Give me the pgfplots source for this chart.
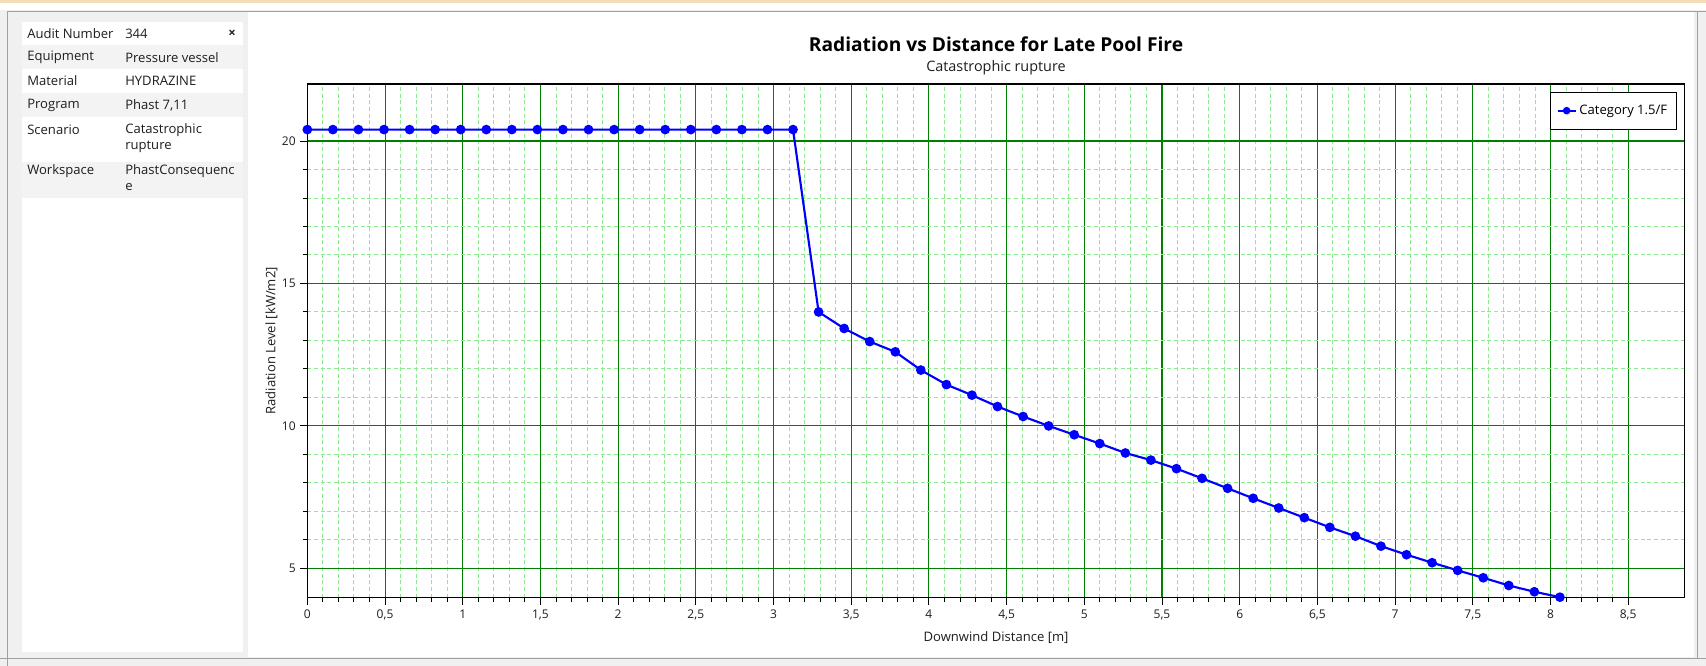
\documentclass[border=0pt]{standalone}
\usepackage{fontspec}
\setmainfont{Open Sans}
\usepackage{pgfplots}
\pgfplotsset{compat=1.18}
\definecolor{majgrid}{RGB}{0,128,0}
\definecolor{mingrid}{RGB}{140,235,140}
\definecolor{panelgrey}{RGB}{240,240,240}
\definecolor{rowgrey}{RGB}{243,243,243}
\definecolor{framegrey}{RGB}{160,160,160}
\definecolor{topbeige}{RGB}{242,222,185}
\definecolor{txt}{RGB}{30,30,30}

\pgfplotstableread{
x y
0 20.4
0.1645 20.4
0.329 20.4
0.4935 20.4
0.658 20.4
0.8225 20.4
0.987 20.4
1.1515 20.4
1.316 20.4
1.4805 20.4
1.645 20.4
1.8095 20.4
1.974 20.4
2.1385 20.4
2.303 20.4
2.4675 20.4
2.632 20.4
2.7965 20.4
2.961 20.4
3.1255 20.4
3.29 14.0
3.4545 13.42
3.619 12.96
3.7835 12.60
3.948 11.96
4.1125 11.45
4.277 11.08
4.4415 10.68
4.606 10.33
4.7705 10.0
4.935 9.69
5.0995 9.38
5.264 9.05
5.4285 8.80
5.593 8.50
5.7575 8.16
5.922 7.81
6.0865 7.46
6.251 7.12
6.4155 6.78
6.58 6.44
6.7445 6.13
6.909 5.78
7.0735 5.48
7.238 5.20
7.4025 4.93
7.567 4.67
7.7315 4.40
7.896 4.18
8.0605 3.99
}\radiation

\newcommand{\sm}{\fontsize{9.8}{11}\selectfont}
\newcommand{\tk}{\fontsize{9}{10}\selectfont}

\begin{document}
\begin{tikzpicture}
\begin{scope}[x=0.75pt,y=-0.75pt]
\useasboundingbox (0,0) rectangle (1706,666);
\fill[panelgrey] (0,0) rectangle (1706,666);
\fill[topbeige] (0,0) rectangle (1706,3);
\fill[white] (0,3) rectangle (1706,10);
\draw[framegrey] (7,666) -- (7,11) -- (1706,11);
% info panel
\fill[white] (21.7,21.7) rectangle (243,652);
\fill[rowgrey] (21.7,45) rectangle (243,69);
\fill[rowgrey] (21.7,93) rectangle (243,116.7);
\fill[rowgrey] (21.7,162) rectangle (243,198);
\begin{scope}[every node/.style={anchor=west,font=\sm,text=txt,inner sep=0pt}]
\node at (27,34) {Audit Number};
\node at (125,34) {344};
\node[font=\sm\bfseries] at (228,34) {×};
\node at (27,57.7) {Equipment};
\node at (125,57.7) {Pressure vessel};
\node at (27,81) {Material};
\node at (125,81) {HYDRAZINE};
\node at (27,105) {Program};
\node at (125,105) {Phast 7,11};
\node at (27,129.7) {Scenario};
\node at (125,129.7) {Catastrophic};
\node at (125,146.3) {rupture};
\node at (27,170.7) {Workspace};
\node at (125,170.7) {PhastConsequenc};
\node at (125,187) {e};
\end{scope}
% chart area
\fill[white] (248,12) rectangle (1694,657);
\draw[framegrey] (1697,11) -- (1697,658);
\draw[framegrey,line width=1pt] (0,658.5) -- (1706,658.5);
\node[font=\fontsize{14.4}{17}\selectfont\bfseries,text=black] at (996,44) {Radiation vs Distance for Late Pool Fire};
\node[font=\fontsize{10.8}{12}\selectfont,text=txt] at (996,67.7) {Catastrophic rupture};
\end{scope}

\begin{axis}[
  at={(230.5pt,-63pt)}, anchor=north west,
  width=1033.1pt, height=385.3pt, scale only axis,
  xmin=0, xmax=8.864, ymin=3.97, ymax=22,
  xtick={0,0.5,...,8.5}, ytick={5,10,15,20},
  minor x tick num=4, minor y tick num=4,
  grid=both,
  major grid style={majgrid, line width=0.8pt},
  minor grid style={mingrid, line width=0.7pt, dash pattern=on 3pt off 2pt},
  tick align=outside, tick pos=left,
  major tick length=5.25pt, minor tick length=3pt,
  tick style={black, line width=0.7pt},
  axis line style={black, line width=0.9pt},
  ticklabel style={font=\tk, text=txt},
  /pgf/number format/.cd, use comma, assume math mode=true,
  /pgfplots/.cd,
  xlabel={Downwind Distance [m]},
  ylabel={Radiation Level [kW/m2]},
  label style={font=\sm, text=txt},
  xlabel style={at={(axis description cs:0.5,-0.0779)}, anchor=center},
  ylabel style={at={(axis description cs:-0.0261,0.5)}, anchor=center},
  legend style={at={(0.9942,0.9844)}, anchor=north east, draw=black, fill=white,
    font=\sm, inner xsep=5pt, inner ysep=7.5pt},
  legend cell align=left,
  legend image code/.code={\draw[mark repeat=2,mark phase=2,#1,mark size=2pt]
    plot coordinates {(0pt,0pt) (6.75pt,0pt) (13.5pt,0pt)};},
]
\addplot[color=blue, line width=1.6pt, mark=*, mark size=2.8pt] table {\radiation};
\addlegendentry{Category 1.5/F}
\end{axis}
\end{tikzpicture}
\end{document}
